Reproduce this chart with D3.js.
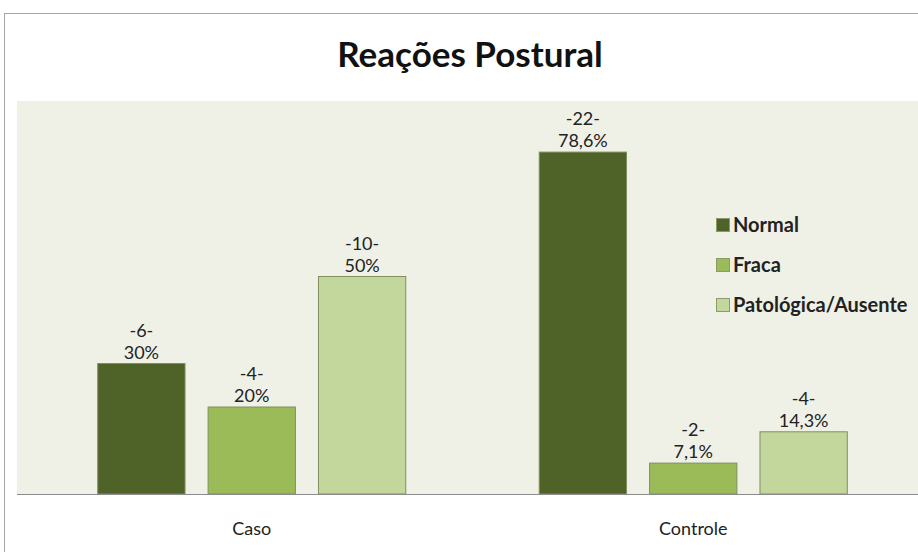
<!DOCTYPE html>
<html>
<head>
<meta charset="utf-8">
<script src="https://cdn.jsdelivr.net/npm/d3@7"></script>
<style>
  body { margin: 0; background: #fff; }
  text { font-family: Lato, "Open Sans", sans-serif; }
</style>
</head>
<body>
<div id="chart"></div>
<script>
// data
var groups = ["Caso", "Controle"];
var series = ["Normal", "Fraca", "Patológica/Ausente"];
var colors = ["#4f6228", "#9bbb59", "#c3d69b"];
var percents = [[30, 20, 50], [78.6, 7.1, 14.3]];
var counts = [[6, 4, 10], [22, 2, 4]];
var pctLabels = [["30%", "20%", "50%"], ["78,6%", "7,1%", "14,3%"]];

var W = 918, H = 552;
var svg = d3.select("#chart").append("svg")
   .attr("width", W).attr("height", H);

// outer chart border
svg.append("rect")
   .attr("x", 4.5).attr("y", 13.5)
   .attr("width", W + 10).attr("height", H + 10)
   .attr("fill", "#fff").attr("stroke", "#a6a6a6");

var plotTop = 101, plotBottom = 494;
// plot area background
svg.append("rect")
   .attr("x", 17).attr("y", plotTop)
   .attr("width", W - 17).attr("height", plotBottom - plotTop)
   .attr("fill", "#eff1e7");

svg.append("text")
   .attr("x", 470).attr("y", 67)
   .attr("text-anchor", "middle")
   .attr("font-size", 35).attr("font-weight", "bold")
   .attr("fill", "#111")
   .text("Reações Postural");

var x0 = d3.scaleBand().domain(groups).range([31, 914]);
var x1 = d3.scaleBand().domain(series).range([0, x0.bandwidth()])
   .paddingInner(0.2).paddingOuter(0.6);
var y = d3.scaleLinear().domain([0, 90]).range([plotBottom, plotBottom - 90 * 4.35]);

var rows = [];
groups.forEach(function (g, gi) {
  series.forEach(function (s, si) {
    rows.push({g: g, s: s, si: si, v: percents[gi][si], n: counts[gi][si], p: pctLabels[gi][si]});
  });
});

var bars = svg.append("g").selectAll("g").data(rows).enter().append("g")
   .attr("transform", function (d) { return "translate(" + (x0(d.g) + x1(d.s)) + ",0)"; });

bars.append("rect")
   .attr("x", 0.5)
   .attr("y", function (d) { return y(d.v); })
   .attr("width", x1.bandwidth() - 1)
   .attr("height", function (d) { return y(0) - y(d.v); })
   .attr("fill", function (d) { return colors[d.si]; })
   .attr("stroke", "#7f8f5f").attr("stroke-width", 1);

bars.append("text")
   .attr("x", x1.bandwidth() / 2)
   .attr("y", function (d) { return y(d.v) - 27; })
   .attr("text-anchor", "middle").attr("font-size", 18).attr("fill", "#222")
   .text(function (d) { return "-" + d.n + "-"; });

bars.append("text")
   .attr("x", x1.bandwidth() / 2)
   .attr("y", function (d) { return y(d.v) - 5; })
   .attr("text-anchor", "middle").attr("font-size", 18).attr("fill", "#222")
   .text(function (d) { return d.p; });

// category axis
var xAxis = svg.append("g")
   .attr("transform", "translate(0," + plotBottom + ")")
   .call(d3.axisBottom(x0).tickSize(0).tickPadding(28));
xAxis.select(".domain").attr("d", "M17,0.5H" + W).attr("stroke", "#8c8c8c");
xAxis.selectAll("text").attr("font-size", 18).attr("fill", "#222")
   .attr("font-family", "Lato, 'Open Sans', sans-serif");

// legend
var legend = svg.append("g").selectAll("g").data(series).enter().append("g")
   .attr("transform", function (d, i) { return "translate(716," + (225 + i * 40) + ")"; });
legend.append("rect")
   .attr("x", 0.5).attr("y", -6.5).attr("width", 13).attr("height", 13)
   .attr("fill", function (d, i) { return colors[i]; })
   .attr("stroke", "#8a9a6a");
legend.append("text")
   .attr("x", 17).attr("y", 7)
   .attr("font-size", 20).attr("font-weight", "bold").attr("fill", "#222")
   .text(function (d) { return d; });
</script>
</body>
</html>
